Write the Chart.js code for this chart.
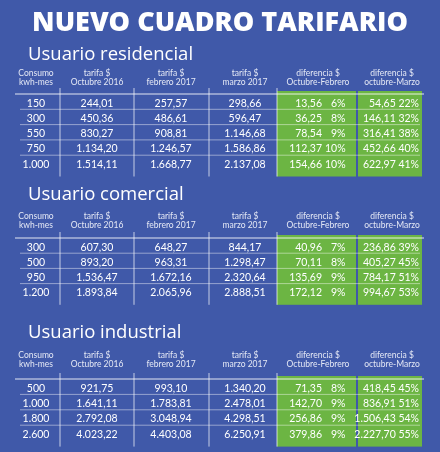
<!DOCTYPE html>
<html><head><meta charset="utf-8">
<script src="https://cdn.jsdelivr.net/npm/chart.js@4"></script>
<style>html,body{margin:0;padding:0;background:#4059a9;}#w{width:440px;height:452px;}</style>
</head><body><div id="w"><canvas id="c"></canvas></div>
<script>
const title = "NUEVO CUADRO TARIFARIO";
const sectionTitles = ["Usuario residencial", "Usuario comercial", "Usuario industrial"];
const headers = [["Consumo","kwh-mes"],["tarifa $","Octubre 2016"],["tarifa $","febrero 2017"],["tarifa $","marzo 2017"],["diferencia $","Octubre-Febrero"],["diferencia $","octubre-Marzo"]];

const resConsumo = [150, 300, 550, 750, 1000];
const resOct16 = [244.01, 450.36, 830.27, 1134.20, 1514.11];
const resFeb17 = [257.57, 486.61, 908.81, 1246.57, 1668.77];
const resMar17 = [298.66, 596.47, 1146.68, 1586.86, 2137.08];
const resDifOF = [13.56, 36.25, 78.54, 112.37, 154.66];
const resPctOF = [6, 8, 9, 10, 10];
const resDifOM = [54.65, 146.11, 316.41, 452.66, 622.97];
const resPctOM = [22, 32, 38, 40, 41];

const comConsumo = [300, 500, 950, 1200];
const comOct16 = [607.30, 893.20, 1536.47, 1893.84];
const comFeb17 = [648.27, 963.31, 1672.16, 2065.96];
const comMar17 = [844.17, 1298.47, 2320.64, 2888.51];
const comDifOF = [40.96, 70.11, 135.69, 172.12];
const comPctOF = [7, 8, 9, 9];
const comDifOM = [236.86, 405.27, 784.17, 994.67];
const comPctOM = [39, 45, 51, 53];

const indConsumo = [500, 1000, 1800, 2600];
const indOct16 = [921.75, 1641.11, 2792.08, 4023.22];
const indFeb17 = [993.10, 1783.81, 3048.94, 4403.08];
const indMar17 = [1340.20, 2478.01, 4298.51, 6250.91];
const indDifOF = [71.35, 142.70, 256.86, 379.86];
const indPctOF = [8, 9, 9, 9];
const indDifOM = [418.45, 836.91, 1506.43, 2227.70];
const indPctOM = [45, 51, 54, 55];

const tables = [
  {c:resConsumo,a:resOct16,b:resFeb17,m:resMar17,d1:resDifOF,p1:resPctOF,d2:resDifOM,p2:resPctOM},
  {c:comConsumo,a:comOct16,b:comFeb17,m:comMar17,d1:comDifOF,p1:comPctOF,d2:comDifOM,p2:comPctOM},
  {c:indConsumo,a:indOct16,b:indFeb17,m:indMar17,d1:indDifOF,p1:indPctOF,d2:indDifOM,p2:indPctOM}
];
const secTitleY = [60, 200, 338];
const headY = [76, 219, 358];
const lineY = [94, 238, 379];
const rowH = [15.3, 15.2, 15.4];
const colX = [36, 97, 171, 245, 318, 392];
const divX = [60, 134, 209, 277];
const greenX = [[277,356],[358,422]];

function fmt(v, dec){
  let s = v.toFixed(dec); let [i,f] = s.split(".");
  i = i.replace(/\B(?=(\d{3})+(?!\d))/g, ".");
  return f ? i + "," + f : i;
}

const tablePlugin = {
  id:'tables',
  beforeDraw(chart){
    const {ctx} = chart; const X = chart.scales.x, Y = chart.scales.y;
    const px = v => X.getPixelForValue(v), py = v => Y.getPixelForValue(v);
    ctx.save();
    ctx.fillStyle = '#4059a9'; ctx.fillRect(0,0,chart.width,chart.height);
    ctx.fillStyle = '#fff'; ctx.textAlign='center'; ctx.textBaseline='alphabetic';
    ctx.font = '800 27px "Open Sans", "DejaVu Sans"';
    ctx.fillText(title, px(220), py(31));
    tables.forEach((t, k) => {
      const n = t.c.length, top = lineY[k], h = rowH[k], bottom = top + n*h + 6;
      ctx.fillStyle = '#6cb543';
      greenX.forEach(([a,b]) => ctx.fillRect(px(a), py(top-3), px(b)-px(a), py(bottom)-py(top-3)));
      ctx.fillStyle='#fff'; ctx.textAlign='left';
      ctx.font = '18.5px "Open Sans", "Noto Sans"';
      ctx.fillText(sectionTitles[k], px(28), py(secTitleY[k]));
      ctx.textAlign='center'; ctx.fillStyle='#e4e8f5';
      ctx.font = '8.5px Lato, "Open Sans"';
      headers.forEach((hd,i)=>{ ctx.fillText(hd[0], px(colX[i]), py(headY[k])); ctx.fillText(hd[1], px(colX[i]), py(headY[k]+9)); });
      ctx.strokeStyle='rgba(255,255,255,0.85)'; ctx.lineWidth=1;
      ctx.beginPath(); ctx.moveTo(px(15),py(top)); ctx.lineTo(px(424),py(top)); ctx.stroke();
      ctx.strokeStyle='rgba(255,255,255,0.45)';
      for(let r=1;r<n;r++){ ctx.beginPath(); ctx.moveTo(px(20),py(top+r*h)); ctx.lineTo(px(420),py(top+r*h)); ctx.stroke(); }
      ctx.strokeStyle='rgba(255,255,255,0.7)';
      divX.forEach(x=>{ ctx.beginPath(); ctx.moveTo(px(x),py(top-6)); ctx.lineTo(px(x),py(bottom)); ctx.stroke(); });
      ctx.fillStyle='#fff'; ctx.font='10.5px Lato, "Open Sans"'; ctx.textBaseline='middle';
      for(let r=0;r<n;r++){
        const y = py(top + (r+0.6)*h);
        ctx.textAlign='center';
        ctx.fillText(fmt(t.c[r],0), px(colX[0]), y);
        ctx.fillText(fmt(t.a[r],2), px(colX[1]), y);
        ctx.fillText(fmt(t.b[r],2), px(colX[2]), y);
        ctx.fillText(fmt(t.m[r],2), px(colX[3]), y);
        ctx.textAlign='right';
        ctx.fillText(fmt(t.d1[r],2), px(322), y);
        ctx.textAlign='left';
        ctx.fillText(t.p1[r]+'%', px(t.p1[r] >= 10 ? 325 : 331), y);
        ctx.textAlign='right';
        ctx.fillText(fmt(t.d2[r],2)+' '+t.p2[r]+'%', px(419), y);
      }
      ctx.textBaseline='alphabetic';
    });
    ctx.restore();
  }
};

new Chart(document.getElementById('c'), {
  type:'scatter',
  data:{datasets:[{data:[]}]},
  options:{
    responsive:true, maintainAspectRatio:false, animation:false,
    layout:{padding:0},
    plugins:{legend:{display:false}, tooltip:{enabled:false}},
    scales:{
      x:{type:'linear', min:0, max:440, display:false},
      y:{type:'linear', min:0, max:452, reverse:true, display:false}
    }
  },
  plugins:[tablePlugin]
});
</script></body></html>
